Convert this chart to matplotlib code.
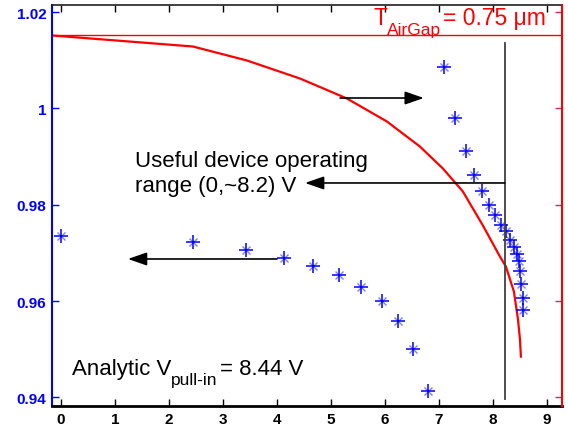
import matplotlib
matplotlib.use("Agg")
import matplotlib.pyplot as plt

plt.rcParams['font.family'] = ['Liberation Sans', 'DejaVu Sans']

# Simulated data points (blue asterisks)
sim_v = [0, 2.44, 3.43, 4.13, 4.67, 5.15, 5.55, 5.94, 6.25, 6.52, 6.80,
         7.09, 7.30, 7.50, 7.65, 7.80, 7.93, 8.04, 8.15, 8.24, 8.31, 8.39,
         8.44, 8.48, 8.50, 8.52, 8.56, 8.55]
sim_y = [0.9735, 0.9722, 0.9706, 0.9689, 0.9673, 0.9654, 0.9629, 0.9600,
         0.9558, 0.9500, 0.9413, 1.0087, 0.9981, 0.9911, 0.9861, 0.9829,
         0.9800, 0.9779, 0.9758, 0.9746, 0.9727, 0.9713, 0.9698, 0.9684,
         0.9663, 0.9636, 0.9607, 0.9582]

# Analytic curve (red)
ana_v = [-0.17, 2.444, 3.444, 4.426, 5.296, 6.037, 6.648, 7.074, 7.444,
         7.815, 8.130, 8.241, 8.389, 8.463, 8.500, 8.519]
ana_y = [1.01517, 1.01288, 1.00997, 1.00623, 1.00208, 0.99730, 0.99210,
         0.98753, 0.98275, 0.97569, 0.96925, 0.96717, 0.96197, 0.95636,
         0.95221, 0.94846]

airgap_level = 1.01517
operating_limit = 8.22

x_ticks = [0, 1, 2, 3, 4, 5, 6, 7, 8, 9]
y_ticks = [0.94, 0.96, 0.98, 1.00, 1.02]
y_tick_labels = ['0.94', '0.96', '0.98', '1', '1.02']

fig = plt.figure(figsize=(5.68, 4.27), dpi=100)
ax = fig.add_axes([52/568, 1-407/427, 510/568, 401/427])
xlim = (-0.167, 9.28)
ylim = (0.9382, 1.0215)
ax.set_xlim(*xlim)
ax.set_ylim(*ylim)

ax.axhline(airgap_level, color='#ff0000', lw=1.0)
ax.plot(ana_v, ana_y, color='#ff0000', lw=1.6)
ax.plot(sim_v, sim_y, linestyle='none', marker='x', ms=6, mew=1.0,
        color='#8080ff')
ax.plot(sim_v, sim_y, linestyle='none', marker='+', ms=10, mew=1.1,
        color='#0000ff')

ax.plot([operating_limit, operating_limit], [0.9397, 1.0136], color='#404040', lw=1.3)

arrow_kw = dict(arrowstyle='-|>,head_length=1.15,head_width=0.4', color='black',
                lw=1.2, shrinkA=0, shrinkB=0)
ax.annotate('', xy=(6.72, 1.00218), xytext=(5.17, 1.00218), arrowprops=arrow_kw)
ax.annotate('', xy=(4.52, 0.98453), xytext=(operating_limit, 0.98453), arrowprops=arrow_kw)
ax.annotate('', xy=(1.24, 0.96874), xytext=(4.0, 0.96874), arrowprops=arrow_kw)

ax.text(1.37, 0.98806, 'Useful device operating', fontsize=16, ha='left', va='baseline')
ax.text(1.37, 0.98287, 'range (0,~8.2) V', fontsize=16, ha='left', va='baseline')

renderer = fig.canvas.get_renderer()


def sub_text(x, y, main, sub, rest, color, size, subsize, drop_px):
    t1 = ax.text(x, y, main, fontsize=size, color=color, ha='left', va='baseline')
    bb = t1.get_window_extent(renderer)
    x0, y0 = ax.transData.transform((x, y))
    inv = ax.transData.inverted()
    sx, sy = inv.transform((bb.x1, y0 - drop_px))
    t2 = ax.text(sx, sy, sub, fontsize=subsize, color=color, ha='left', va='baseline')
    bb2 = t2.get_window_extent(renderer)
    rx, ry = inv.transform((bb2.x1 + 2, y0))
    ax.text(rx, ry, rest, fontsize=size, color=color, ha='left', va='baseline')


sub_text(0.2, 0.94486, 'Analytic V', 'pull-in', '= 8.44 V', 'black', 16, 12.5, 10)
sub_text(5.78, 1.01755, 'T', 'AirGap', '= 0.75 μm', '#ff0000', 16.5, 12.5, 10)

ax.set_xticks(x_ticks)
ax.set_xticklabels([str(t) for t in x_ticks], fontweight='bold', fontsize=11)
ax.set_yticks(y_ticks)
ax.set_yticklabels(y_tick_labels, fontweight='bold', fontsize=11, color='#0000ff')
ax.tick_params(axis='x', direction='in', length=5, width=1, top=True, colors='black', pad=4)
ax.tick_params(axis='y', direction='in', length=5, width=1, colors='#0000ff', pad=4)

ax.spines['left'].set_color('#0000ff')
ax.spines['left'].set_linewidth(1.5)
ax.spines['bottom'].set_linewidth(2.0)
ax.spines['bottom'].set_color('black')
ax.spines['top'].set_linewidth(1.2)
ax.spines['top'].set_color('#202020')
ax.spines['right'].set_visible(False)

ax2 = ax.twinx()
ax2.set_position(ax.get_position())
ax2.set_ylim(*ylim)
ax2.set_yticks(y_ticks)
ax2.set_yticklabels([])
ax2.tick_params(axis='y', direction='in', length=5, width=1, colors='#c0306a')
ax2.spines['right'].set_color('#ff0000')
ax2.spines['right'].set_linewidth(1.5)
for s in ['left', 'top', 'bottom']:
    ax2.spines[s].set_visible(False)

fig.savefig('out.png', dpi=100)
